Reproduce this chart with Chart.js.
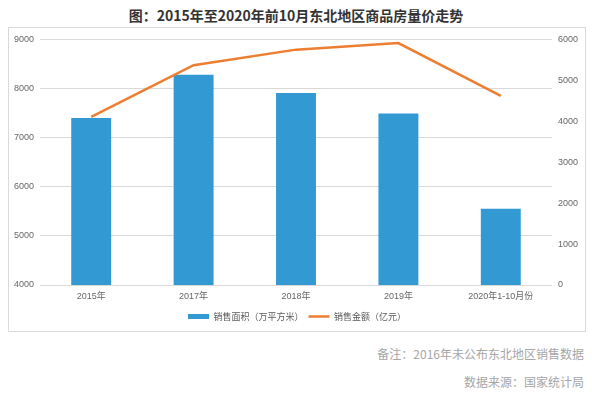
<!DOCTYPE html>
<html>
<head>
<meta charset="utf-8">
<script src="https://cdn.jsdelivr.net/npm/chart.js@4/dist/chart.umd.min.js"></script>
<style>
  body { margin: 0; background: #fff; font-family: "Noto Sans CJK SC", sans-serif; }
  #title { position: absolute; left: 0; top: 5px; width: 592px; text-align: center;
           font-size: 14px; line-height: 20px; font-weight: bold; color: #333; }
  #box { position: absolute; left: 8px; top: 27px; width: 576px; height: 303px;
         border: 1px solid #d9d9d9; }
  .note { position: absolute; right: 8px; font-size: 12px; line-height: 16px; color: #a6a6a6; }
</style>
</head>
<body>
<div id="title">图：2015年至2020年前10月东北地区商品房量价走势</div>
<div id="box"><canvas id="chart" width="576" height="303"></canvas></div>
<div class="note" style="top:346px">备注：2016年未公布东北地区销售数据</div>
<div class="note" style="top:374px">数据来源：国家统计局</div>
<script>
// categories + the two series
const years = ["2015年", "2017年", "2018年", "2019年", "2020年1-10月份"]
const salesArea = [7400, 8280, 7910, 7490, 5550]   // 万平方米, left axis
const salesAmount = [4110, 5370, 5750, 5910, 4620] // 亿元, right axis

const areaTicks = { min: 4000, max: 9000, step: 1000 }
const amountTicks = { min: 0, max: 6000, step: 1000 }

const tickFont = { family: "'Liberation Sans', 'Noto Sans CJK SC', sans-serif", size: 9 }
const tickColor = "#666"

new Chart(document.getElementById("chart"), {
  type: "bar",
  data: {
    labels: years,
    datasets: [
      {
        label: "销售面积（万平方米）",
        data: salesArea,
        backgroundColor: "#3399D3",
        borderWidth: 0,
        barPercentage: 0.39,
        categoryPercentage: 1,
        pointStyle: "rect",
        yAxisID: "y",
        order: 2,
      },
      {
        type: "line",
        label: "销售金额（亿元）",
        data: salesAmount,
        borderColor: "#ED7D31",
        backgroundColor: "#ED7D31",
        borderWidth: 2.5,
        tension: 0,
        pointRadius: 0,
        pointStyle: "line",
        yAxisID: "y1",
        order: 1,
      },
    ],
  },
  options: {
    responsive: false,
    animation: false,
    layout: { padding: { top: 6, left: 0, right: 0, bottom: 0 } },
    plugins: {
      tooltip: { enabled: false },
      legend: {
        position: "bottom",
        labels: {
          usePointStyle: true,
          pointStyleWidth: 21,
          boxHeight: 5,
          padding: 5,
          color: "#595959",
          font: { family: "'Noto Sans CJK SC', sans-serif", size: 9 },
          sort: (a, b) => a.datasetIndex - b.datasetIndex, // bar first, like the original
        },
      },
    },
    scales: {
      x: {
        grid: { display: false, drawTicks: false },
        border: { display: false },
        ticks: { color: tickColor, font: tickFont, padding: 6, maxRotation: 0 },
        afterFit: (scale) => { scale.height = 22 },
      },
      y: {
        position: "left",
        min: areaTicks.min,
        max: areaTicks.max,
        grid: { color: "#d9d9d9", drawTicks: false },
        border: { display: false },
        ticks: { stepSize: areaTicks.step, color: tickColor, font: tickFont, padding: 6,
                 callback: (v) => String(v) },
        afterFit: (scale) => { scale.width = 31 },
      },
      y1: {
        position: "right",
        min: amountTicks.min,
        max: amountTicks.max,
        grid: { drawOnChartArea: false, drawTicks: false },
        border: { display: false },
        ticks: { stepSize: amountTicks.step, color: tickColor, font: tickFont, padding: 6,
                 callback: (v) => String(v) },
        afterFit: (scale) => { scale.width = 33 },
      },
    },
  },
})
</script>
</body>
</html>
